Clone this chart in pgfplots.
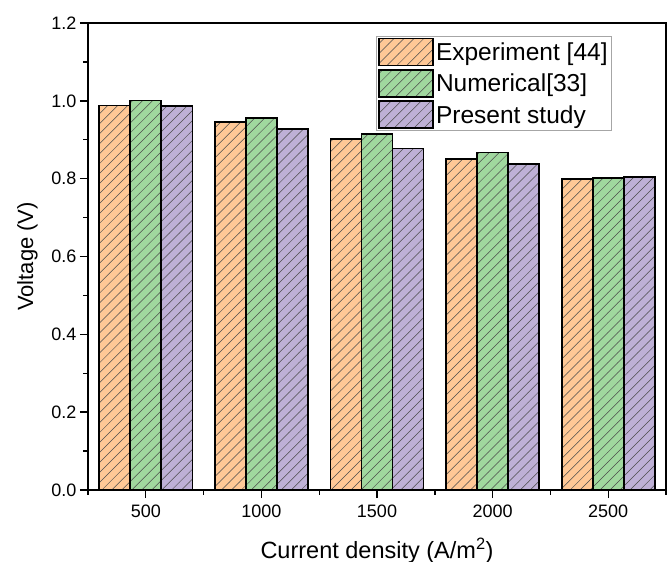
\documentclass[border=0pt]{standalone}
\usepackage{pgfplots}
\pgfplotsset{compat=1.18}
\usepackage{fontspec}
\setmainfont{Liberation Sans}
\usetikzlibrary{patterns}
\definecolor{corange}{RGB}{255,200,150}
\definecolor{cgreen}{RGB}{160,216,158}
\definecolor{cpurple}{RGB}{190,176,214}
\pgfdeclarepatternformonly{widelines}{\pgfqpoint{-1pt}{-1pt}}{\pgfqpoint{11pt}{11pt}}{\pgfqpoint{10pt}{10pt}}{%
  \pgfsetlinewidth{0.5pt}%
  \pgfpathmoveto{\pgfqpoint{-0.1pt}{-0.1pt}}%
  \pgfpathlineto{\pgfqpoint{10.1pt}{10.1pt}}%
  \pgfusepath{stroke}}
\pgfplotsset{
  myleg/.style={legend image code/.code={\draw[##1] (0bp,-13bp) rectangle (54bp,14bp);}},
}
\begin{document}
\begin{tikzpicture}
\begin{axis}[
  width=578bp, height=467bp, scale only axis,
  xmin=250, xmax=2750, ymin=0, ymax=1.2,
  ybar=0pt, bar width=31bp,
  xtick={500,1000,1500,2000,2500},
  minor xtick={250,750,1250,1750,2250,2750},
  ytick={0,0.2,0.4,0.6,0.8,1.0,1.2},
  minor ytick={0.1,0.3,0.5,0.7,0.9,1.1},
  scaled ticks=false,
  tick align=outside, xtick pos=bottom, ytick pos=left,
  major tick length=8bp, minor tick length=4.5bp,
  every tick/.style={black, line width=1.4bp},
  axis line style={line width=1.6bp},
  xticklabel style={/pgf/number format/1000 sep={}, yshift=-3bp},
  yticklabel style={/pgf/number format/.cd, fixed, fixed zerofill, precision=1},
  /pgf/number format/assume math mode=true,
  ticklabel style={font=\fontsize{18bp}{20bp}\selectfont},
  xlabel={Current density (A/m\textsuperscript{2})},
  ylabel={Voltage (V)},
  xlabel style={font=\fontsize{23.5bp}{26bp}\selectfont, yshift=-14bp},
  ylabel style={font=\fontsize{22bp}{24bp}\selectfont, yshift=7bp},
  legend cell align=left,
  legend style={at={(1,1)}, anchor=north east, xshift=-54bp, yshift=-13bp,
    draw=gray!70, line width=0.8bp, font=\fontsize{24.5bp}{27bp}\selectfont,
    inner xsep=2bp, inner ysep=1.5bp, row sep=2.5bp},
]
\addplot[draw=black, line width=1.6bp, fill=corange,
  postaction={pattern=widelines, pattern color=black!70, draw=black, line width=1.6bp}, myleg]
  coordinates {(500,0.988) (1000,0.945) (1500,0.902) (2000,0.851) (2500,0.799)};
\addlegendentry{Experiment [44]}
\addplot[draw=black, line width=1.6bp, fill=cgreen,
  postaction={pattern=widelines, pattern color=black!70, draw=black, line width=1.6bp}, myleg]
  coordinates {(500,1.001) (1000,0.956) (1500,0.915) (2000,0.867) (2500,0.802)};
\addlegendentry{Numerical[33]}
\addplot[draw=black, line width=1.6bp, fill=cpurple,
  postaction={pattern=widelines, pattern color=black!70, draw=black, line width=1.6bp}, myleg]
  coordinates {(500,0.986) (1000,0.928) (1500,0.877) (2000,0.838) (2500,0.804)};
\addlegendentry{Present study}
\end{axis}
\pgfresetboundingbox
\path (current axis.south west) ++(-88bp,-72bp) rectangle ++(670bp,562bp);
\end{tikzpicture}
\end{document}
